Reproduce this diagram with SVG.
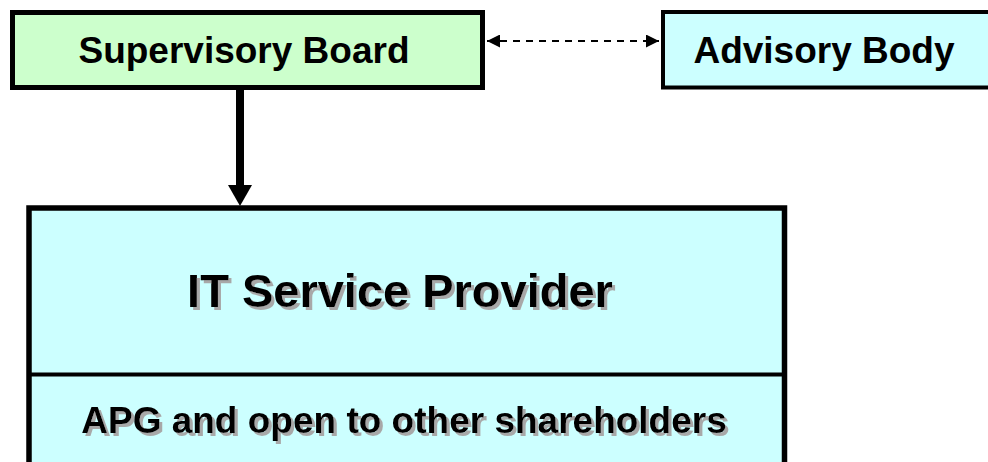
<svg xmlns="http://www.w3.org/2000/svg" width="988" height="462" viewBox="0 0 988 462">
  <defs>
    <style>
      .lbl { font-family: "Liberation Sans", Arial, sans-serif; font-weight: bold; fill: #000; text-anchor: middle; }
      .box { stroke: #000; }
      .shadowed { filter: url(#txtShadow); }
    </style>
    <!-- soft grey offset copy behind the title texts -->
    <filter id="txtShadow" x="-5%" y="-20%" width="110%" height="140%">
      <feOffset in="SourceAlpha" dx="2.5" dy="2.5" result="off"/>
      <feFlood flood-color="#a8a8a8"/>
      <feComposite in2="off" operator="in" result="shade"/>
      <feMerge>
        <feMergeNode in="shade"/>
        <feMergeNode in="SourceGraphic"/>
      </feMerge>
    </filter>
    <marker id="tri" viewBox="0 0 10 10" refX="10" refY="5" markerWidth="6.5" markerHeight="6.5" orient="auto-start-reverse" markerUnits="strokeWidth">
      <path d="M0,0 L10,5 L0,10 Z" fill="#000"/>
    </marker>
  </defs>
  <rect width="988" height="462" fill="#fff"/>

  <g id="supervisory-board">
    <rect class="box" x="12.5" y="12.5" width="470" height="75" fill="#ccffcc" stroke-width="5"/>
    <text class="lbl" x="244" y="63" font-size="37">Supervisory Board</text>
  </g>

  <g id="advisory-body">
    <rect class="box" x="663" y="12" width="340" height="75.5" fill="#ccffff" stroke-width="4"/>
    <text class="lbl" x="824" y="63" font-size="37">Advisory Body</text>
  </g>

  <g id="it-service-provider">
    <rect class="box" x="29" y="208" width="755.5" height="280" fill="#ccffff" stroke-width="5.5"/>
    <line x1="29" y1="374.5" x2="784.5" y2="374.5" stroke="#000" stroke-width="4"/>
    <text class="lbl shadowed" x="400" y="306.5" font-size="47">IT Service Provider</text>
    <text class="lbl shadowed" x="404" y="432.5" font-size="37">APG and open to other shareholders</text>
  </g>

  <g id="connectors">
    <line x1="487" y1="41" x2="659" y2="41" stroke="#000" stroke-width="2" stroke-dasharray="7,6" marker-start="url(#tri)" marker-end="url(#tri)"/>
    <line x1="240" y1="90" x2="240" y2="187" stroke="#000" stroke-width="8"/>
    <path d="M228,185 L252,185 L240,206 Z" fill="#000"/>
  </g>
</svg>
